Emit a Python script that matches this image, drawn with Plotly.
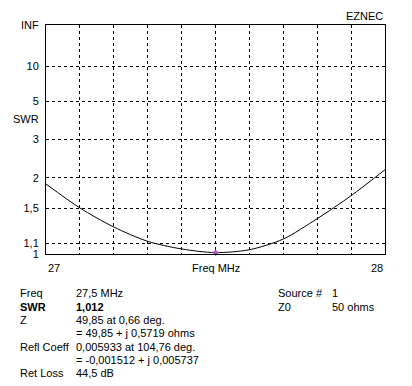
import plotly.graph_objects as go

# ---- data ----
freq_mhz = [27.0, 27.1, 27.2, 27.3, 27.4, 27.5, 27.6, 27.7, 27.8, 27.9, 28.0]
swr = [1.881, 1.503, 1.267, 1.117, 1.045, 1.012, 1.038, 1.14, 1.365, 1.683, 2.165]
marker_freq = [27.5]
marker_swr = [1.012]

swr_ticks = [1.0, 1.1, 1.5, 2.0, 3.0, 5.0, 10.0, float("inf")]
swr_tick_labels = ["1", "1,1", "1,5", "2", "3", "5", "10", "INF"]
x_grid = [27.0, 27.1, 27.2, 27.3, 27.4, 27.5, 27.6, 27.7, 27.8, 27.9, 28.0]

info_left_labels = ["Freq", "<b>SWR</b>", "Z", "", "Refl Coeff", "", "Ret Loss"]
info_left_values = ["27,5 MHz", "<b>1,012</b>", "49,85 at 0,66 deg.",
                    "= 49,85 + j 0,5719 ohms", "0,005933 at 104,76 deg.",
                    "= -0,001512 + j 0,005737", "44,5 dB"]
info_right_labels = ["Source #", "Z0"]
info_right_values = ["1", "50 ohms"]


def rho(s):
    if s == float("inf"):
        return 1.0
    return (s - 1.0) / (s + 1.0)


FONT = "Arial, Liberation Sans, sans-serif"

fig = go.Figure()
fig.add_trace(go.Scatter(
    x=freq_mhz, y=[rho(s) for s in swr], mode="lines",
    line=dict(color="black", width=1, shape="spline", smoothing=0.8),
    hoverinfo="skip", showlegend=False))
fig.add_trace(go.Scatter(
    x=marker_freq, y=[rho(s) for s in marker_swr], mode="markers",
    marker=dict(color="#a45ac8", size=5, symbol="diamond"),
    cliponaxis=False, showlegend=False))

W, H = 412, 386
L, R, T, B = 38, 377, 17, 246

fig.update_layout(
    width=W, height=H,
    margin=dict(l=L, r=W - R, t=T, b=H - B, autoexpand=False),
    paper_bgcolor="white", plot_bgcolor="white",
    font=dict(family=FONT, size=11, color="black"),
    showlegend=False,
    xaxis=dict(range=[27.0, 28.0], tickvals=x_grid, showticklabels=False,
               showgrid=True, gridcolor="black", gridwidth=1, griddash="3px,3px",
               showline=True, linecolor="black", linewidth=1, mirror=True,
               zeroline=False, ticks="", fixedrange=True, automargin=False),
    yaxis=dict(range=[0, 1], tickvals=[rho(s) for s in swr_ticks],
               ticktext=swr_tick_labels, ticklabelstandoff=4,
               showgrid=True, gridcolor="black", gridwidth=1, griddash="3px,3px",
               showline=True, linecolor="black", linewidth=1, mirror=True,
               zeroline=False, ticks="", fixedrange=True, automargin=False,
               tickfont=dict(family=FONT, size=11, color="black")),
)


def px_x(x):
    return (x - L) / (R - L)


def px_y(y):
    return (B - y) / (B - T)


ann = []
# x tick labels and title
ann.append(dict(x=freq_mhz[0], xref="x", y=px_y(260), yref="paper", text="27",
                xanchor="left", yanchor="middle", showarrow=False))
ann.append(dict(x=freq_mhz[-1], xref="x", y=px_y(260), yref="paper", text="28",
                xanchor="right", yanchor="middle", showarrow=False))
ann.append(dict(x=px_x(207.5), xref="paper", y=px_y(260), yref="paper", text="Freq MHz",
                xanchor="center", yanchor="middle", showarrow=False))
ann.append(dict(x=px_x(3), xref="paper", y=px_y(111), yref="paper", text="SWR",
                xanchor="left", yanchor="middle", showarrow=False))
ann.append(dict(x=px_x(377), xref="paper", y=px_y(8), yref="paper", text="EZNEC",
                xanchor="right", yanchor="middle", showarrow=False))

rows_y = [285, 299, 312, 325, 338.5, 351.5, 365]
for i, (lab, val) in enumerate(zip(info_left_labels, info_left_values)):
    if lab:
        ann.append(dict(x=px_x(10), xref="paper", y=px_y(rows_y[i]), yref="paper",
                        text=lab, xanchor="left", yanchor="middle", showarrow=False))
    ann.append(dict(x=px_x(66), xref="paper", y=px_y(rows_y[i]), yref="paper",
                    text=val, xanchor="left", yanchor="middle", showarrow=False))
for i, (lab, val) in enumerate(zip(info_right_labels, info_right_values)):
    ann.append(dict(x=px_x(268), xref="paper", y=px_y(rows_y[i]), yref="paper",
                    text=lab, xanchor="left", yanchor="middle", showarrow=False))
    ann.append(dict(x=px_x(322), xref="paper", y=px_y(rows_y[i]), yref="paper",
                    text=val, xanchor="left", yanchor="middle", showarrow=False))

fig.update_layout(annotations=ann)
fig.write_html("out.html", config={"displayModeBar": False})
